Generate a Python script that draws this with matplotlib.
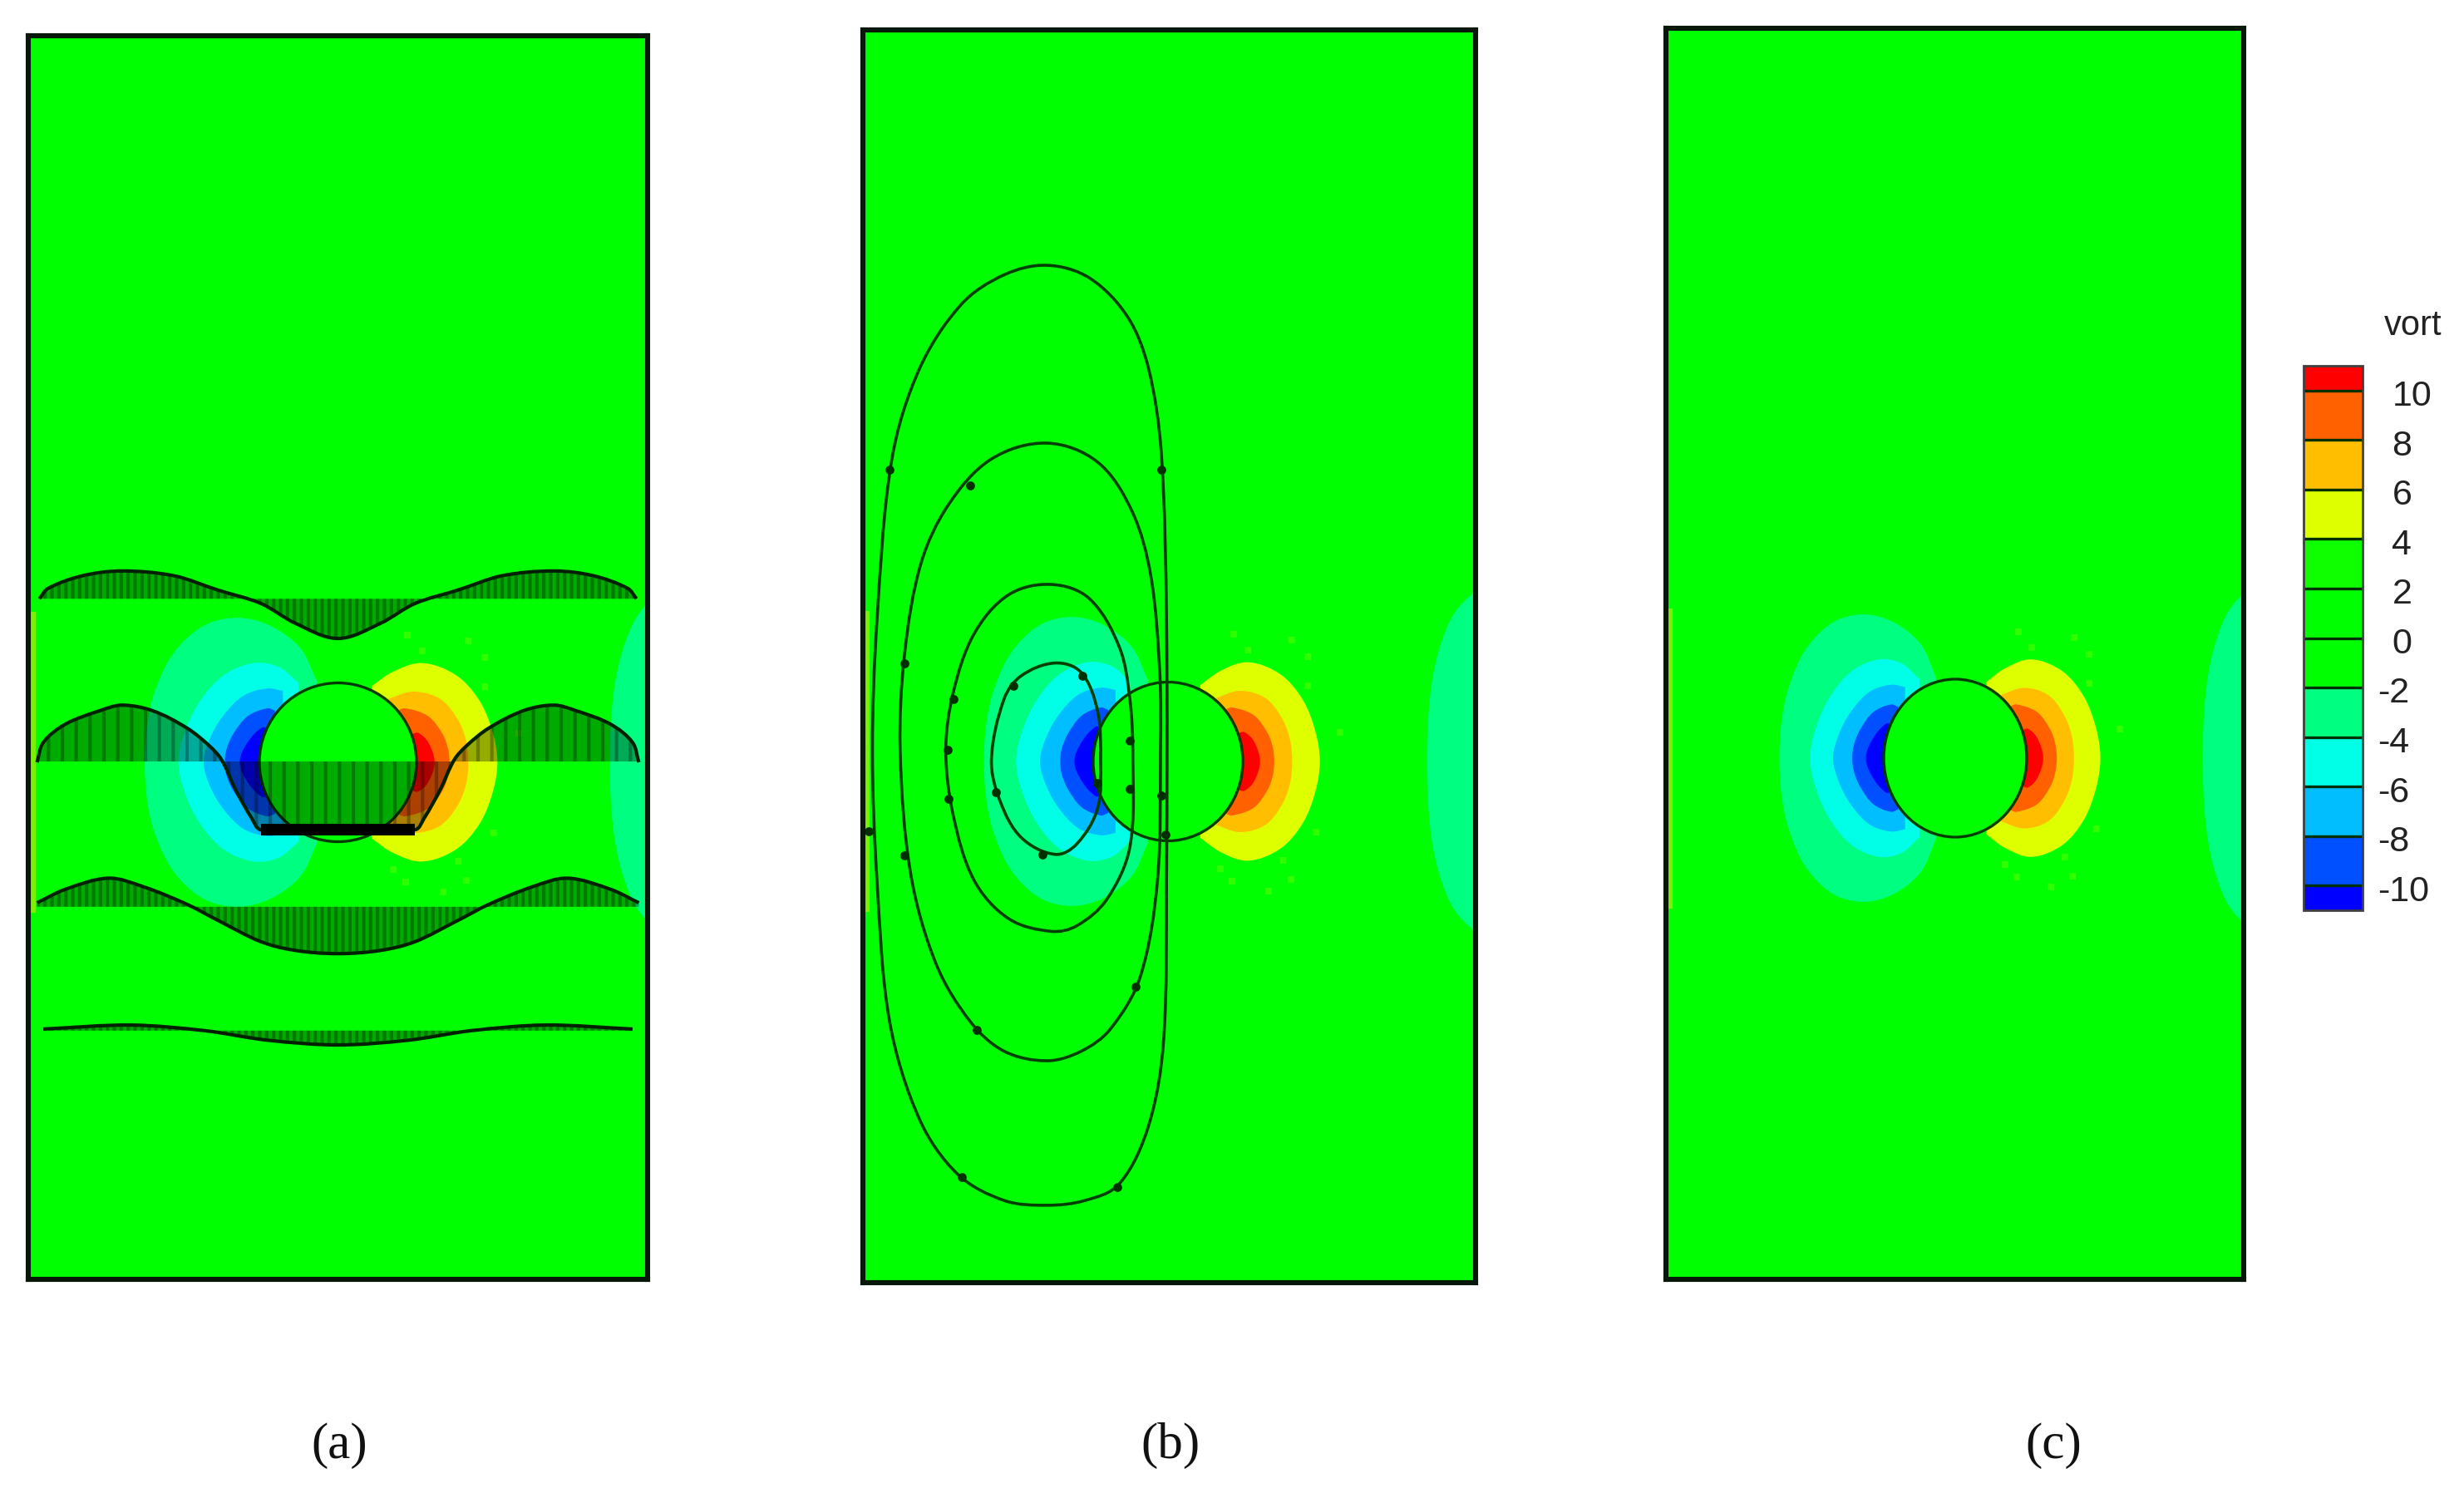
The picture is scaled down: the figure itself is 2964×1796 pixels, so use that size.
import numpy as np
import matplotlib
matplotlib.use('Agg')
import matplotlib.pyplot as plt
from matplotlib.path import Path
from matplotlib.patches import PathPatch, Circle
from matplotlib.colors import ListedColormap, BoundaryNorm
from matplotlib.cm import ScalarMappable
from matplotlib.transforms import blended_transform_factory

W, H = 2964, 1796

# vorticity colour bar
bar_levels = [-11, -10, -8, -6, -4, -2, 0, 2, 4, 6, 8, 10, 11]
bar_colors = ['#0000ff', '#0050ff', '#00beff', '#00ffe6', '#00ff80', '#00ff00',
              '#00ff00', '#10ff00', '#deff00', '#ffbe00', '#ff6000', '#ff0000']
bar_ticks = [10, 8, 6, 4, 2, 0, -2, -4, -6, -8, -10]
bar_labels = ['10', '8', '6', '4', '2', '0', '-2', '-4', '-6', '-8', '-10']

# vorticity band outlines, upper half, cylinder radius = 1
neg2_x = [-0.27, -0.48, -0.86, -1.28, -1.71, -2.09, -2.33, -2.43, -2.46]
neg2_y = [1.03, 1.44, 1.72, 1.82, 1.72, 1.38, 0.90, 0.47, 0.0]
neg4_x = [-0.50, -0.75, -1.07, -1.45, -1.75, -1.95, -2.03]
neg4_y = [1.00, 1.20, 1.25, 1.10, 0.78, 0.38, 0.0]
neg6_x = [-0.70, -0.90, -1.20, -1.45, -1.62, -1.71]
neg6_y = [0.90, 0.93, 0.84, 0.60, 0.32, 0.0]
neg8_x = [-0.80, -0.90, -1.15, -1.33, -1.42, -1.44]
neg8_y = [0.65, 0.68, 0.58, 0.36, 0.16, 0.0]
neg10_x = [-0.88, -0.96, -1.15, -1.25]
neg10_y = [0.40, 0.44, 0.25, 0.0]

pos6_x = [0.43, 0.70, 1.07, 1.50, 1.80, 1.97, 2.03]
pos6_y = [0.96, 1.14, 1.25, 1.10, 0.78, 0.38, 0.0]
pos8_x = [0.64, 0.96, 1.30, 1.52, 1.63, 1.66]
pos8_y = [0.80, 0.89, 0.80, 0.55, 0.28, 0.0]
pos10_x = [0.75, 0.86, 1.15, 1.33, 1.40, 1.42]
pos10_y = [0.65, 0.68, 0.58, 0.36, 0.18, 0.0]
pos12_x = [0.93, 1.02, 1.15, 1.23]
pos12_y = [0.35, 0.37, 0.25, 0.0]

outlet_x = [4.30, 3.85, 3.62, 3.50, 3.46]
outlet_y = [2.30, 1.90, 1.40, 0.80, 0.0]

speck_x = [0.88, 1.66, 1.07, 1.87, 1.87, 1.98, 1.53, 0.86, 1.64, 1.34, 0.70, 2.30]
speck_y = [1.60, 1.53, 1.40, 1.32, 0.95, -0.89, -1.25, -1.51, -1.49, -1.63, -1.35, 0.37]

# velocity profiles of panel (a), right half is the mirror of the left
rake1_x = [-3.80, -3.69, -3.25, -2.75, -2.09, -1.53, -0.98, -0.54, 0.0]
rake1_y = [2.06, 2.19, 2.35, 2.41, 2.35, 2.17, 2.00, 1.75, 1.56]
rake1_base = 2.06
rake2_x = [-3.83, -3.75, -3.47, -3.03, -2.75, -2.36, -1.92, -1.64, -1.48, -1.30, -1.10, -0.98, 0.0]
rake2_y = [0.0, 0.25, 0.48, 0.65, 0.72, 0.65, 0.43, 0.21, 0.03, -0.35, -0.70, -0.85, -0.85]
rake2_base = 0.01
rake3_x = [-3.83, -3.47, -2.92, -2.47, -1.92, -1.53, -0.98, -0.54, 0.0]
rake3_y = [-1.77, -1.60, -1.46, -1.57, -1.79, -1.99, -2.26, -2.37, -2.41]
rake3_base = -1.82
rake4_x = [-3.75, -2.64, -1.70, -0.90, 0.0]
rake4_y = [-3.36, -3.31, -3.38, -3.50, -3.56]
rake4_base = -3.38

# streamlines of panel (b)
loop1_x = [-2.36, -2.19, -1.96, -1.51, -1.16, -0.94, -0.90, -0.94, -1.22, -1.51, -1.96, -2.24]
loop1_y = [0.02, 0.79, 1.08, 1.24, 1.12, 0.63, 0.02, -0.59, -1.04, -1.17, -0.96, -0.51]
loop2_x = [-2.97, -2.87, -2.59, -2.13, -1.56, -1.05, -0.65, -0.51, -0.47, -0.51, -0.82, -1.22,
           -1.56, -2.13, -2.59, -2.87]
loop2_y = [0.14, 0.87, 1.61, 2.10, 2.23, 2.05, 1.44, 0.79, 0.06, -1.08, -1.74, -2.07,
           -2.14, -1.98, -1.50, -0.68]
loop3_x = [-3.58, -3.52, -3.30, -2.93, -2.36, -1.62, -0.94, -0.48, -0.23, -0.11, -0.10, -0.14,
           -0.37, -0.77, -1.16, -1.62, -2.19, -2.64, -3.10, -3.44]
loop3_y = [0.14, 1.36, 2.50, 3.24, 3.81, 4.01, 3.77, 3.15, 2.34, 1.12, 0.14, -1.49,
           -2.71, -3.37, -3.65, -3.77, -3.65, -3.28, -2.55, -1.41]
loop4_x = [-3.95, -3.89, -3.69, -3.32, -2.76, -2.19, -1.62, -1.05, -0.54, -0.26, -0.09, -0.02,
           -0.02, -0.06, -0.26, -0.65, -1.11, -1.62, -2.19, -2.81, -3.32, -3.72, -3.89]
loop4_y = [0.14, 1.77, 3.81, 4.95, 5.76, 6.13, 6.25, 6.09, 5.60, 4.95, 3.89, 1.77,
           -1.49, -3.53, -4.59, -5.32, -5.53, -5.59, -5.53, -5.20, -4.51, -3.28, -1.49]
arrow_x = [-3.72, -0.09, -2.64, -3.52, -2.87, -2.07, -1.14, -0.51, -2.94, -0.94, -0.51,
           -0.09, -2.30, -2.93, -4.00, -0.03, -3.52, -1.68, -0.43, -2.56, -2.76, -0.68]
arrow_y = [3.68, 3.68, 3.48, 1.24, 0.79, 0.95, 1.08, 0.26, 0.15, -0.27, -0.35,
           -0.43, -0.39, -0.47, -0.88, -0.92, -1.18, -1.17, -2.84, -3.38, -5.24, -5.36]

panel_labels = ['(a)', '(b)', '(c)']


def smooth_path(xs, ys, closed=False):
    # bezier segments through the read points, handle length follows each segment
    pts = np.column_stack([xs, ys]).astype(float)
    if closed:
        pts = np.vstack([pts[-1], pts, pts[0], pts[1]])
    else:
        pts = np.vstack([pts[0], pts, pts[-1]])
    tang = np.zeros_like(pts)
    for i in range(1, len(pts) - 1):
        d = pts[i + 1] - pts[i - 1]
        tang[i] = d / max(np.hypot(d[0], d[1]), 1e-9)
    verts = [pts[1]]
    codes = [Path.MOVETO]
    for i in range(1, len(pts) - 2):
        seg = np.hypot(*(pts[i + 1] - pts[i])) / 3
        verts += [pts[i] + tang[i] * seg, pts[i + 1] - tang[i + 1] * seg, pts[i + 1]]
        codes += [Path.CURVE4] * 3
    return Path(verts, codes)


def add_lobe(ax, xs, ys, color, z=2):
    all_x = list(xs) + list(xs[-2::-1])
    all_y = list(ys) + [-v for v in ys[-2::-1]]
    ax.add_patch(PathPatch(smooth_path(all_x, all_y), facecolor=color, edgecolor='none', zorder=z))


def draw_field(ax, left_edge):
    add_lobe(ax, outlet_x, outlet_y, '#00ff80')
    ax.fill([left_edge, left_edge + 0.09, left_edge + 0.09, left_edge],
            [1.9, 1.9, -1.9, -1.9], color='#7cf000', lw=0, zorder=2)
    add_lobe(ax, neg2_x, neg2_y, '#00ff80')
    add_lobe(ax, neg4_x, neg4_y, '#00ffe6')
    add_lobe(ax, neg6_x, neg6_y, '#00beff')
    add_lobe(ax, neg8_x, neg8_y, '#0050ff')
    add_lobe(ax, neg10_x, neg10_y, '#0000ff')
    add_lobe(ax, pos6_x, pos6_y, '#deff00')
    add_lobe(ax, pos8_x, pos8_y, '#ffbe00')
    add_lobe(ax, pos10_x, pos10_y, '#ff6000')
    add_lobe(ax, pos12_x, pos12_y, '#ff0000')
    ax.scatter(speck_x, speck_y, s=36, marker='s', color='#30ff00', lw=0, zorder=2)
    ax.add_patch(Circle((0, 0), 1, facecolor='#00ff00', edgecolor='#003c00', lw=2.4, zorder=3))


def draw_rake(ax, xs, ys, base, hatch):
    all_x = xs + [-v for v in xs[-2::-1]]
    all_y = ys + ys[-2::-1]
    curve = smooth_path(all_x, all_y)
    shape = Path(np.vstack([curve.vertices, [all_x[-1], base], [all_x[0], base], curve.vertices[0]]),
                 list(curve.codes) + [Path.LINETO, Path.LINETO, Path.CLOSEPOLY])
    ax.add_patch(PathPatch(shape, facecolor=(0, 0, 0, 0.33), edgecolor=(0, 0, 0, 0.28),
                           hatch=hatch, linewidth=0, zorder=4))
    ax.add_patch(PathPatch(curve, facecolor='none', edgecolor='#002000', lw=3, zorder=5))


def draw_panel_a(ax):
    draw_rake(ax, rake1_x, rake1_y, rake1_base, '||')
    draw_rake(ax, rake2_x, rake2_y, rake2_base, '|')
    draw_rake(ax, rake3_x, rake3_y, rake3_base, '||')
    draw_rake(ax, rake4_x, rake4_y, rake4_base, '||')
    ax.plot([rake2_x[-2], -rake2_x[-2]], [rake2_y[-1], rake2_y[-1]], color='black', lw=10,
            solid_capstyle='butt', zorder=5)


def draw_panel_b(ax):
    for lx, ly in [(loop1_x, loop1_y), (loop2_x, loop2_y), (loop3_x, loop3_y), (loop4_x, loop4_y)]:
        ax.add_patch(PathPatch(smooth_path(lx, ly, closed=True), facecolor='none',
                               edgecolor='#004000', lw=2.6, zorder=4))
    ax.scatter(arrow_x, arrow_y, s=60, marker='o', color='#003000', lw=0, zorder=5)


def make_panel(fig, left, right, top, bottom, cx, cy, rx, ry):
    ax = fig.add_axes([left / W, 1 - bottom / H, (right - left) / W, (bottom - top) / H])
    ax.set_xlim((left - cx) / rx, (right - cx) / rx)
    ax.set_ylim((cy - bottom) / ry, (cy - top) / ry)
    ax.set_facecolor('#00ff00')
    ax.set_xticks([])
    ax.set_yticks([])
    for sp in ax.spines.values():
        sp.set_linewidth(4.4)
        sp.set_color('#081808')
        sp.set_zorder(10)
    draw_field(ax, (left - cx) / rx)
    return ax


def draw_colorbar(fig):
    cax = fig.add_axes([2771 / W, 1 - 1095 / H, 71 / W, 655 / H])
    cmap = ListedColormap(bar_colors)
    norm = BoundaryNorm(bar_levels, cmap.N)
    cb = fig.colorbar(ScalarMappable(norm=norm, cmap=cmap), cax=cax, ticks=[],
                      drawedges=True, spacing='proportional')
    cb.dividers.set_color('#003000')
    cb.dividers.set_linewidth(2.4)
    cb.outline.set_linewidth(2.0)
    cb.outline.set_edgecolor('#404040')
    cax.minorticks_off()
    trans = blended_transform_factory(cax.transAxes, cax.transData)
    for tick, label in zip(bar_ticks, bar_labels):
        x = 1.25 if tick < 0 else 1.50
        cax.text(x, tick - 0.25, label, transform=trans, ha='left', va='center',
                 fontsize=31, family='Liberation Sans', color='#222222')
    cax.text(1.86, 12.6, 'vort', transform=trans, ha='center', va='center',
             fontsize=30, family='Liberation Sans', color='#222222')


def main():
    plt.rcParams['hatch.linewidth'] = 3
    fig = plt.figure(figsize=(W / 100, H / 100), dpi=100)
    ax_a = make_panel(fig, 34, 779, 43, 1539, 406.5, 917, 94.5, 95.5)
    ax_b = make_panel(fig, 1038, 1775, 36, 1543, 1405, 916, 90, 95.5)
    make_panel(fig, 2004, 2699, 34, 1539, 2352, 912, 86, 95)
    draw_panel_a(ax_a)
    draw_panel_b(ax_b)
    draw_colorbar(fig)
    for label, px in zip(panel_labels, [408, 1408, 2470]):
        fig.text(px / W, 1 - 1739 / H, label, ha='center', va='center',
                 fontsize=44, family='Liberation Serif', color='#111111')
    fig.savefig('out.png', dpi=100)


if __name__ == "__main__":
    main()
